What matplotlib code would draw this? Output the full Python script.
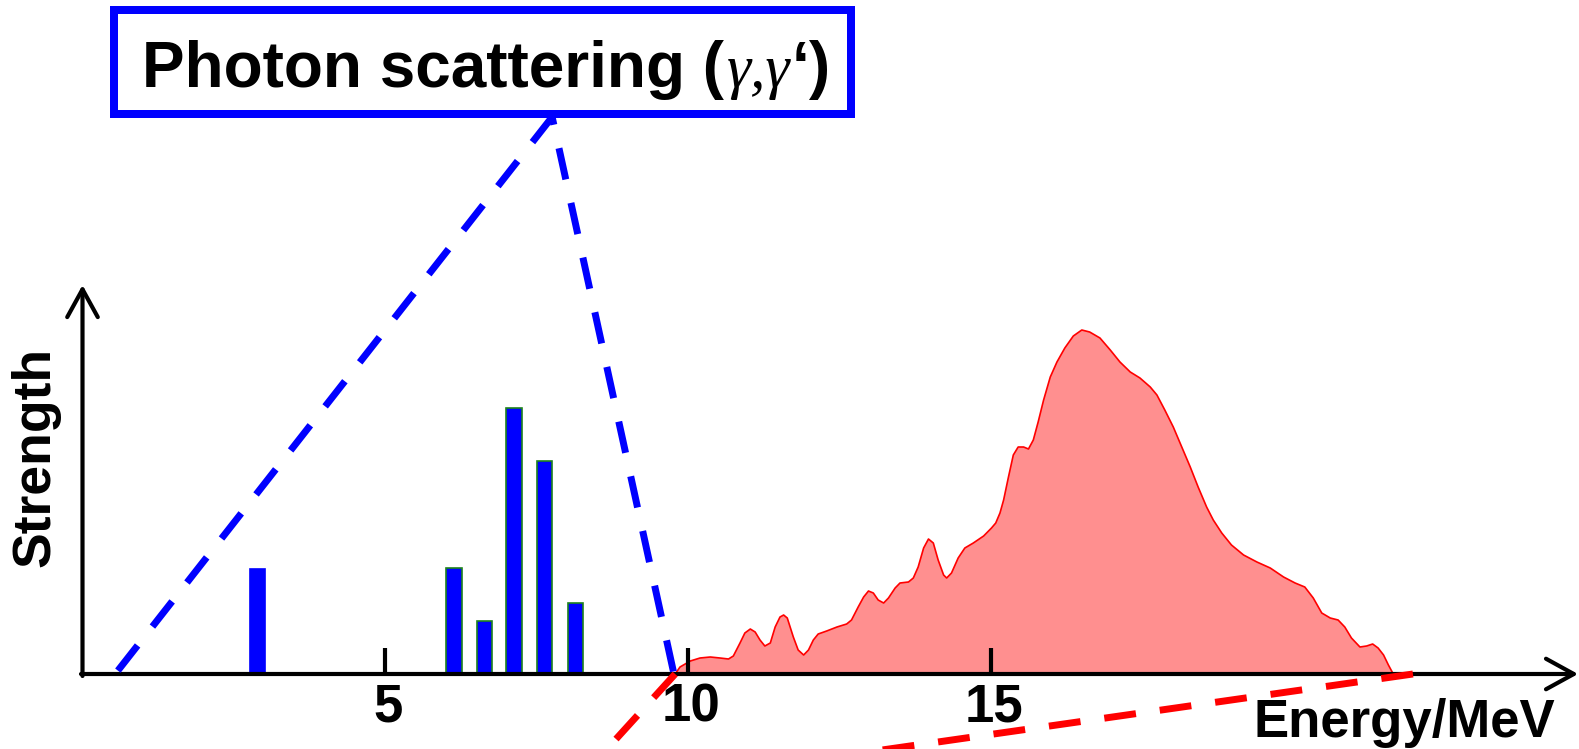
import matplotlib
matplotlib.use('Agg')
import matplotlib.pyplot as plt
from matplotlib.transforms import Affine2D, ScaledTranslation
from matplotlib import font_manager as fm
from matplotlib.patches import Rectangle

# ---------------- data ----------------
bar_energy = [2.89, 6.13, 6.63, 7.12, 7.62, 8.13]
bar_strength = [1.05, 1.06, 0.53, 2.66, 2.13, 0.71]
bar_edge = ['#0000ff', '#1e821e', '#1e821e', '#1e821e', '#1e821e', '#1e821e']

gdr_energy = [9.78, 9.86, 10.03, 10.19, 10.36, 10.52, 10.66, 10.74, 10.85, 10.93,
              11.02, 11.10, 11.18, 11.26, 11.35, 11.43, 11.51, 11.57, 11.63, 11.73,
              11.81, 11.90, 11.98, 12.06, 12.14, 12.28, 12.45, 12.61, 12.69, 12.80,
              12.89, 12.97, 13.05, 13.13, 13.22, 13.30, 13.41, 13.49, 13.63, 13.71,
              13.79, 13.88, 13.96, 14.04, 14.12, 14.21, 14.26, 14.34, 14.45, 14.56,
              14.70, 14.87, 15.00, 15.07, 15.14, 15.20, 15.28, 15.36, 15.44, 15.53,
              15.61, 15.69, 15.77, 15.86, 15.97, 16.08, 16.21, 16.35, 16.49, 16.62,
              16.79, 16.96, 17.12, 17.29, 17.45, 17.62, 17.73, 17.86, 18.00, 18.14,
              18.28, 18.41, 18.55, 18.66, 18.80, 18.96, 19.16, 19.38, 19.60, 19.82,
              20.01, 20.17, 20.31, 20.45, 20.59, 20.72, 20.83, 20.94, 21.08, 21.19,
              21.29, 21.38, 21.47, 21.55, 21.63]
gdr_strength = [0.00, 0.07, 0.13, 0.16, 0.17, 0.16, 0.15, 0.18, 0.31, 0.41,
                0.45, 0.42, 0.34, 0.28, 0.31, 0.47, 0.57, 0.59, 0.56, 0.37,
                0.24, 0.19, 0.24, 0.34, 0.40, 0.43, 0.47, 0.50, 0.54, 0.67,
                0.77, 0.83, 0.81, 0.74, 0.71, 0.76, 0.86, 0.91, 0.92, 0.96,
                1.07, 1.26, 1.35, 1.31, 1.14, 0.99, 0.96, 1.01, 1.16, 1.26,
                1.31, 1.38, 1.46, 1.51, 1.61, 1.74, 1.97, 2.19, 2.27, 2.27,
                2.25, 2.34, 2.52, 2.74, 2.97, 3.12, 3.26, 3.38, 3.44, 3.42,
                3.36, 3.24, 3.12, 3.02, 2.96, 2.87, 2.79, 2.64, 2.47, 2.27,
                2.07, 1.87, 1.67, 1.54, 1.41, 1.29, 1.19, 1.12, 1.06, 0.97,
                0.91, 0.87, 0.76, 0.61, 0.56, 0.54, 0.47, 0.36, 0.27, 0.28,
                0.30, 0.26, 0.19, 0.09, 0.00]

x_ticks = [5, 10, 15]
x_tick_labels = ['5', '10', '15']

# guide lines (energy, strength)
blue_apex = (7.75, 5.57)
blue_left = (0.54, 0.0)
blue_right = (9.76, 0.0)
red1 = [(9.78, 0.0), (8.49, -0.86)]
red2 = [(21.955, 0.0), (12.04, -0.86)]

y_axis_top = 3.89
x_axis_end = 24.68

# ---------------- figure ----------------
W, H = 1579, 749
fig = plt.figure(figsize=(W / 100, H / 100), dpi=100)
ax = fig.add_axes([0, 0, 1, 1])
ax.set_xlim(-1.3614, 24.695)
ax.set_ylim(-0.75, 6.74)
ax.axis('off')

pix = Affine2D().scale(1, -1).translate(0, H)   # top-left pixel coords -> display

names = {f.name for f in fm.fontManager.ttflist}
SANS = 'Liberation Sans' if 'Liberation Sans' in names else 'DejaVu Sans'
SERIF = 'Liberation Serif' if 'Liberation Serif' in names else 'DejaVu Serif'

# GDR curve
ax.fill_between(gdr_energy, 0, gdr_strength, facecolor='#ff8f8f', edgecolor='none', zorder=1)
ax.plot(gdr_energy, gdr_strength, color='red', lw=1.2, zorder=1.5)

# bars
ax.bar(bar_energy, bar_strength, width=0.25, color='#0000ff', edgecolor=bar_edge,
       linewidth=1.2, zorder=2)

# axes with arrows
arrow_kw = dict(arrowstyle='->,head_length=0.4,head_width=0.22', lw=3, color='black',
                mutation_scale=50, shrinkA=0, shrinkB=0)
ax.annotate('', xy=(0, y_axis_top), xytext=(0, -0.02), arrowprops=arrow_kw, zorder=3)
ax.annotate('', xy=(x_axis_end, 0), xytext=(-0.025, 0), arrowprops=arrow_kw, zorder=3)

# ticks
ax.vlines(x_ticks, 0, 0.26, colors='black', lw=3, zorder=3)
off = ScaledTranslation(3 / 100, 0, fig.dpi_scale_trans)
for t, lab in zip(x_ticks, x_tick_labels):
    ax.text(t, -0.48, lab, transform=ax.transData + off, ha='center', va='baseline',
            fontsize=38, fontweight='bold', family=SANS, zorder=3)

# axis labels
ax.text(1555, 737, 'Energy/MeV', transform=pix, ha='right', va='baseline',
        fontsize=38, fontweight='bold', family=SANS)
ax.text(35, 456.5, 'Strength', transform=pix, rotation=90, ha='center', va='center',
        fontsize=38.5, fontweight='bold', family=SANS)

# dashed guide lines
dash = (0, (4.6, 3.46))
ax.plot([blue_apex[0], blue_left[0]], [blue_apex[1], blue_left[1]], color='#0000ff',
        lw=5, linestyle=dash, dash_capstyle='butt', zorder=4)
ax.plot([blue_apex[0], blue_right[0]], [blue_apex[1], blue_right[1]], color='#0000ff',
        lw=5, linestyle=(3.46, (4.6, 3.46)), dash_capstyle='butt', zorder=4)
for seg in (red1, red2):
    ax.plot([seg[0][0], seg[1][0]], [seg[0][1], seg[1][1]], color='#ff0000', lw=5,
            linestyle=dash, dash_capstyle='butt', zorder=4)

# title box
box = Rectangle((114, 10), 736.5, 103.5, transform=pix, facecolor='white',
                edgecolor='#0000ff', lw=5.76, zorder=5, clip_on=False)
ax.add_patch(box)

TITLE_SIZE = 46
t1 = ax.text(141.7, 87.3, 'Photon scattering (', transform=pix, ha='left', va='baseline',
             fontsize=TITLE_SIZE, fontweight='bold', family=SANS, zorder=6)
fig.canvas.draw()
r = fig.canvas.get_renderer()
bb1 = t1.get_window_extent(r)
t2 = ax.text(bb1.x1 + 3, 87.3, 'γ,γ', transform=pix, ha='left', va='baseline',
             fontsize=44, style='italic', family=SERIF, zorder=6)
fig.canvas.draw()
bb2 = t2.get_window_extent(r)
ax.text(bb2.x1 + 1, 87.3, '‘)', transform=pix, ha='left', va='baseline',
        fontsize=TITLE_SIZE, fontweight='bold', family=SANS, zorder=6)

fig.savefig('out.png', dpi=100)
